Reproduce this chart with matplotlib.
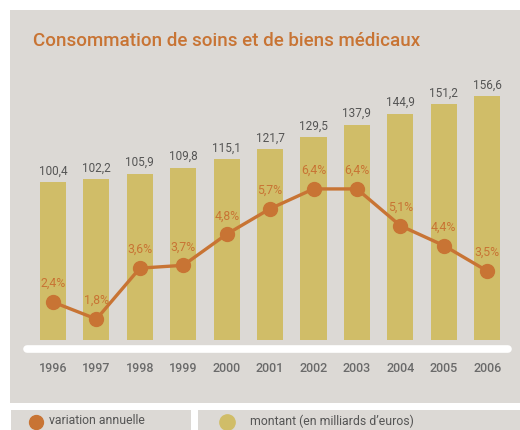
import numpy as np
import matplotlib
matplotlib.use('Agg')
import matplotlib.pyplot as plt
from matplotlib.patches import Rectangle
from matplotlib.lines import Line2D

years = ['1996', '1997', '1998', '1999', '2000', '2001', '2002', '2003', '2004', '2005', '2006']
montant = [100.4, 102.2, 105.9, 109.8, 115.1, 121.7, 129.5, 137.9, 144.9, 151.2, 156.6]
variation = [2.4, 1.8, 3.6, 3.7, 4.8, 5.7, 6.4, 6.4, 5.1, 4.4, 3.5]

GREY = '#dcd9d5'
BAR = '#d0bd68'
ORANGE = '#c87434'
TXT = '#555555'
W, H = 520, 430

plt.rcParams['font.family'] = ['Roboto', 'DejaVu Sans']

fig = plt.figure(figsize=(W / 100, H / 100), dpi=100)
fig.patch.set_facecolor('white')

def px(x, y):
    return x / W, 1 - y / H

# background panels
for x0, y0, w, h in [(10, 403, 510, 393), (11, 430, 180, 20), (198, 430, 322, 20)]:
    fig.patches.append(Rectangle(px(x0, y0), w / W, h / H, transform=fig.transFigure,
                                 facecolor=GREY, edgecolor='none', zorder=-5))

fig.text(*px(33, 41), 'Consommation de soins et de biens médicaux', color=ORANGE,
         fontsize=13.5, fontweight='medium', va='center', ha='left')

# axes
l, b = px(27, 340)
r, t = px(508, 80)
ax = fig.add_axes([l, b, r - l, t - b])
ax.set_facecolor('none')
x = np.arange(len(years))
ybot = -2.9
ax.bar(x, np.array(montant) - ybot, bottom=ybot, width=0.6, color=BAR, zorder=1)
ax.set_xlim(-0.6, 10.48)
ax.set_ylim(ybot, 167)
for xi, v in zip(x, montant):
    ax.text(xi, v + 3, f'{v:.1f}'.replace('.', ','), ha='center', va='bottom',
            fontsize=8.5, color=TXT)
ax.axis('off')

ax2 = ax.twinx()
ax2.plot(x, variation, color=ORANGE, lw=2.4, marker='o', ms=10, zorder=3)
ax2.set_ylim(1.06, 10.25)
for xi, v in zip(x, variation):
    ax2.text(xi, v + 0.42, f'{v:.1f}%'.replace('.', ','), ha='center', va='bottom',
             fontsize=8.8, color=ORANGE)
ax2.axis('off')

# white baseline
fig.lines.append(Line2D([27 / W, 508 / W], [1 - 349 / H] * 2, transform=fig.transFigure,
                        color='white', lw=5.5, solid_capstyle='round'))
for xi, yr in zip(x, years):
    xf = ax.transData.transform((xi, 0))[0] / W
    fig.text(xf, 1 - 368 / H, yr, ha='center', va='center', fontsize=9,
             fontweight='medium', color='#6a6a6a')

# legend
fig.lines.append(Line2D([36 / W], [1 - 422 / H], transform=fig.transFigure, marker='o',
                        ms=10, color=ORANGE, lw=0))
fig.text(*px(49, 421), 'variation annuelle', fontsize=8.8, color=TXT, va='center')
fig.lines.append(Line2D([227 / W], [1 - 422 / H], transform=fig.transFigure, marker='o',
                        ms=11, color=BAR, lw=0))
fig.text(*px(250, 421), 'montant (en milliards d’euros)', fontsize=8.8, color=TXT, va='center')

fig.savefig('out.png', dpi=100)
